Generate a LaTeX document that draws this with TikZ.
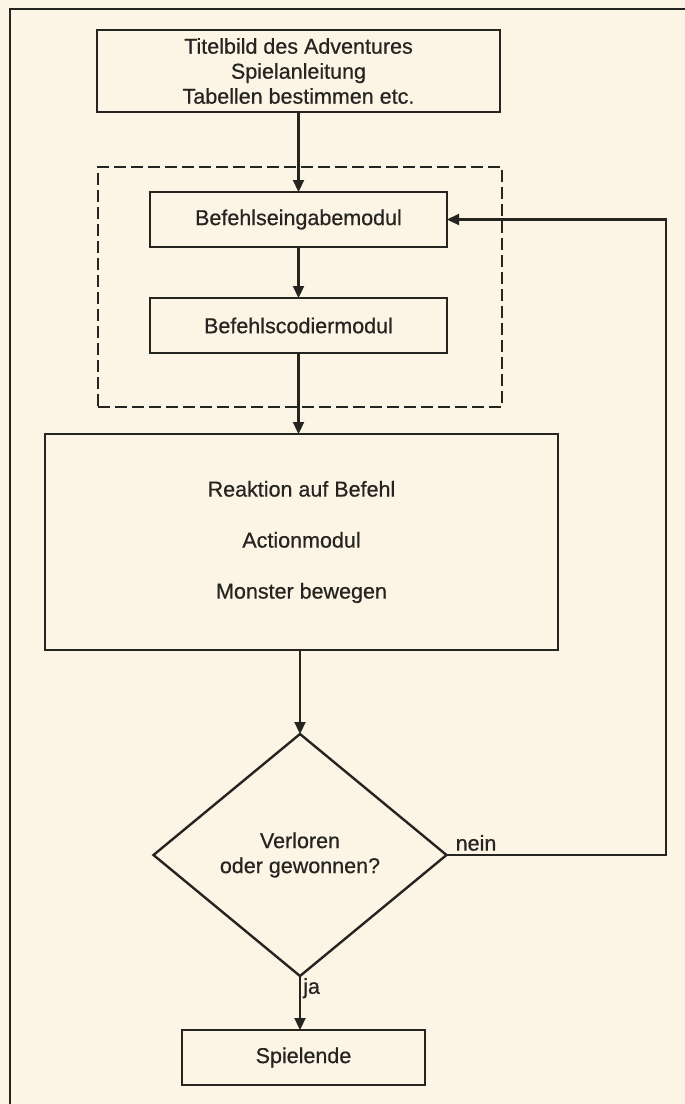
\documentclass[tikz,border=0pt]{standalone}
\usepackage{fontspec}
\setmainfont{Liberation Sans}
\newfontfamily\inkfont{Liberation Sans}[FakeBold=0.6]
\usetikzlibrary{shapes.geometric,arrows.meta}
\definecolor{paper}{RGB}{252,245,230}
\definecolor{ink}{RGB}{38,36,33}
\begin{document}
\begin{tikzpicture}[x=1pt,y=-1pt,
  box/.style={draw=ink, text=ink, line width=2.4pt, rectangle, inner sep=0pt, outer sep=0pt,
    align=center, font=\inkfont\fontsize{21.5}{25}\selectfont},
  groupbox/.style={draw=ink, line width=2.6pt, dash pattern=on 12pt off 5pt, rectangle,
    inner sep=0pt, outer sep=0pt},
  decision/.style={draw=ink, text=ink, line width=2.4pt, diamond, inner sep=0pt, outer sep=0pt,
    align=center, font=\inkfont\fontsize{21.5}{25}\selectfont},
  flow/.style={draw=ink, line width=2.2pt, -{Triangle[length=12pt,width=11pt]}},
  lbl/.style={text=ink, inner sep=1pt, font=\inkfont\fontsize{21.5}{25}\selectfont}]
\fill[paper] (0,0) rectangle (685,1104);
\useasboundingbox (0,0) rectangle (685,1104);
% outer frame of the page
\draw[ink, line width=2.8pt] (10,1104) -- (10,9) -- (685,9);
% nodes
\node[box, minimum width=403pt, minimum height=82pt] (t1) at (298.5,71)
  {Titelbild des Adventures\\Spielanleitung\\Tabellen bestimmen etc.};
\node[groupbox, minimum width=404pt, minimum height=240pt] (grp) at (300,287) {};
\node[box, minimum width=297pt, minimum height=55pt] (b1) at (298.5,219.5) {Befehlseingabemodul};
\node[box, minimum width=297pt, minimum height=55pt] (b2) at (298.5,325.5) {Befehlscodiermodul};
\node[box, minimum width=513pt, minimum height=216pt, font=\inkfont\fontsize{21.5}{51}\selectfont] (big) at (301.5,542)
  {Reaktion auf Befehl\\Actionmodul\\Monster bewegen};
\node[decision, minimum width=293pt, minimum height=242pt] (dia) at (300,855)
  {Verloren\\oder gewonnen?};
\node[box, minimum width=243pt, minimum height=55pt] (end) at (303.5,1057.5) {Spielende};
\coordinate (fb) at (666,855);
% connectors
\draw[flow] (t1.south -| b1.north) -- (b1.north);
\draw[flow] (b1.south) -- (b2.north);
\draw[flow] (b2.south) -- (b2.south |- big.north);
\draw[flow] (big.south -| dia.north) -- (dia.north);
\draw[flow] (dia.south) -- (dia.south |- end.north);
\draw[flow] (dia.east) -- (fb) |- (b1.east);
% labels
\node[lbl, anchor=south west] (nein) at ([xshift=8pt,yshift=3pt]dia.east) {nein};
\node[lbl, anchor=north west] (ja) at ([xshift=2pt,yshift=-1pt]dia.south) {ja};
\end{tikzpicture}
\end{document}
